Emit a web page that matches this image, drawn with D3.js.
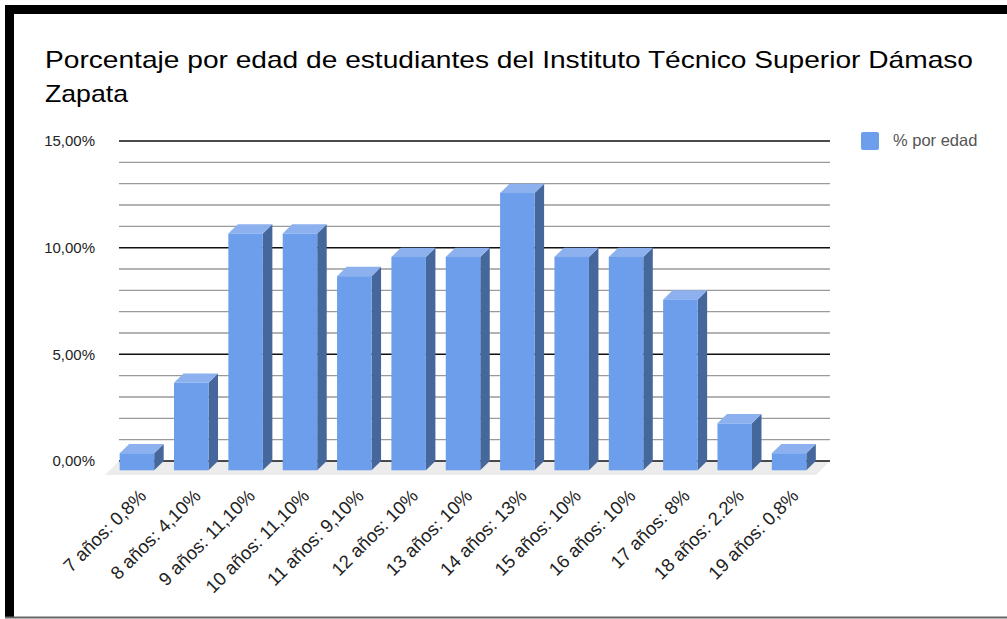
<!DOCTYPE html>
<html>
<head>
<meta charset="utf-8">
<script src="https://cdn.jsdelivr.net/npm/d3@7"></script>
<style>
  body { margin: 0; background: #fff; }
  text { font-family: "Liberation Sans", Arial, sans-serif; }
</style>
</head>
<body>
<script>
// ages and the percentage labels as they appear under the bars
const categories = ["7 años: 0,8%", "8 años: 4,10%", "9 años: 11,10%", "10 años: 11,10%",
  "11 años: 9,10%", "12 años: 10%", "13 años: 10%", "14 años: 13%", "15 años: 10%",
  "16 años: 10%", "17 años: 8%", "18 años: 2.2%", "19 años: 0,8%"];
const values = [0.8, 4.1, 11.1, 11.1, 9.1, 10, 10, 13, 10, 10, 8, 2.2, 0.8];
const yTicks = [0, 5, 10, 15];
const seriesName = "% por edad";
const titleLines = ["Porcentaje por edad de estudiantes del Instituto Técnico Superior Dámaso", "Zapata"];

const W = 1007, H = 619;
const plot = { left: 119, right: 830, top: 141, bottom: 461 };
const depth = { dx: 9.5, dy: 9.3 };    // bar depth
const floorD = { dx: 14, dy: 14 };     // floor depth

const svg = d3.select("body").append("svg")
  .attr("width", W).attr("height", H);

// frame
svg.append("rect").attr("x", 5).attr("y", 5).attr("width", W - 5).attr("height", 9).attr("fill", "#000");
svg.append("rect").attr("x", 5).attr("y", 5).attr("width", 9).attr("height", H - 7).attr("fill", "#000");
svg.append("line").attr("x1", 5).attr("x2", W).attr("y1", 617.5).attr("y2", 617.5)
  .attr("stroke", "#666").attr("stroke-width", 2);

// title (the original is drawn a bit wider than the font)
const titleW = [928, 83];
svg.append("g").selectAll("text").data(titleLines).join("text")
  .attr("x", 45).attr("y", (d, i) => 68 + i * 33.5)
  .attr("font-size", 24).attr("fill", "#000")
  .attr("textLength", (d, i) => titleW[i]).attr("lengthAdjust", "spacingAndGlyphs")
  .text(d => d);

const x = d3.scaleBand().domain(categories).range([102, 843]).paddingInner(0.365).paddingOuter(0.5);
const y = d3.scaleLinear().domain([0, 15]).range([plot.bottom, plot.top]);

// floor
svg.append("polygon")
  .attr("points", [[plot.left, plot.bottom], [plot.right, plot.bottom],
    [plot.right - floorD.dx, plot.bottom + floorD.dy], [plot.left - floorD.dx, plot.bottom + floorD.dy]].join(" "))
  .attr("fill", "#ececec");

// gridlines
const minor = d3.range(0, 16, 1);
svg.append("g").selectAll("line").data(minor).join("line")
  .attr("x1", plot.left).attr("x2", plot.right)
  .attr("y1", d => y(d)).attr("y2", d => y(d))
  .attr("stroke", d => yTicks.includes(d) ? "#111" : "#9a9a9a")
  .attr("stroke-width", d => yTicks.includes(d) ? 1.5 : 1.3);

// y axis labels
const fmt = v => v.toFixed(2).replace(".", ",") + "%";
const yAxis = svg.append("g").attr("transform", `translate(${plot.left},0)`)
  .call(d3.axisLeft(y).tickValues(yTicks).tickFormat(fmt).tickSize(0).tickPadding(24));
yAxis.select(".domain").remove();
yAxis.selectAll("text").attr("font-size", 15).attr("fill", "#222")
  .attr("font-family", "Liberation Sans, Arial, sans-serif");

// bars (3D)
const bars = svg.append("g").selectAll("g").data(values).join("g");
bars.each(function (v, i) {
  const g = d3.select(this);
  const bw = x.bandwidth();
  const bx = x(categories[i]), by = y(v), b0 = y(0);
  const fx = bx - depth.dx, fy = by + depth.dy, f0 = b0 + depth.dy;
  g.append("polygon") // side
    .attr("points", [[fx + bw, fy], [bx + bw, by], [bx + bw, b0], [fx + bw, f0]].join(" "))
    .attr("fill", "#46679b");
  g.append("polygon") // top
    .attr("points", [[fx, fy], [fx + bw, fy], [bx + bw, by], [bx, by]].join(" "))
    .attr("fill", "#8cb1ee");
  g.append("rect") // front
    .attr("x", fx).attr("y", fy).attr("width", bw).attr("height", f0 - fy)
    .attr("fill", "#6d9eeb");
});

// x labels
svg.append("g").selectAll("text").data(categories).join("text")
  .attr("transform", d => `translate(${x(d) + x.bandwidth() / 2 + 1},497) rotate(-45)`)
  .attr("text-anchor", "end").attr("font-size", 18.5).attr("fill", "#222")
  .text(d => d);

// legend
svg.append("rect").attr("x", 861).attr("y", 132).attr("width", 18).attr("height", 18)
  .attr("rx", 2).attr("fill", "#6d9eeb");
svg.append("text").attr("x", 893).attr("y", 146).attr("font-size", 16.5).attr("fill", "#555")
  .text(seriesName);
</script>
</body>
</html>
